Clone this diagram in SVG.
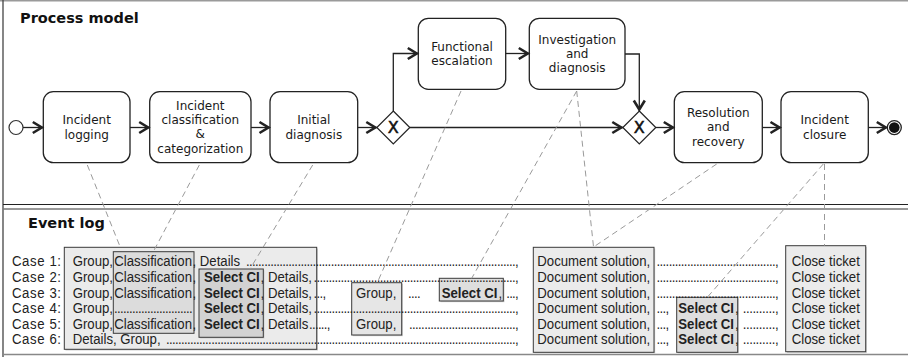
<svg xmlns="http://www.w3.org/2000/svg" width="908" height="357" viewBox="0 0 908 357">
  <style>
    .title { font-family: "DejaVu Sans", Verdana, sans-serif; font-size: 14.5px; font-weight: bold; fill: #111; }
    .task rect { fill: #fff; stroke: #222; stroke-width: 1.3; }
    .task text { font-family: "DejaVu Sans", Verdana, sans-serif; font-size: 12px; fill: #1a1a1a; text-anchor: middle; }
    .gw polygon { fill: #fff; stroke: #222; stroke-width: 1.2; }
    .gw text { font-family: "DejaVu Sans", Verdana, sans-serif; font-size: 16px; fill: #111; stroke: #111; stroke-width: 0.5; text-anchor: middle; }
    .flow { fill: none; stroke: #222; stroke-width: 1.3; }
    .map { fill: none; stroke: #9a9a9a; stroke-width: 1; stroke-dasharray: 6 4; }
    .log { font-family: "Liberation Sans", Arial, sans-serif; font-size: 13.2px; fill: #222; }
    .log .b { font-weight: bold; }
    .log .dots { letter-spacing: -0.7px; }
    .lbox { stroke: #3a3a3a; stroke-width: 1; }
    .shadow { fill: #cfcfcf; }
  </style>
  <defs>
    <marker id="arr" viewBox="0 0 16 14" markerUnits="userSpaceOnUse" markerWidth="16" markerHeight="14" refX="12.5" refY="7" orient="auto" overflow="visible">
      <path d="M2,1.5 L11,7 L2,12.5" fill="none" stroke="#222" stroke-width="2.6"/>
    </marker>
  </defs>

  <!-- frame -->
  <g id="frame">
    <line x1="0" y1="0.75" x2="908" y2="0.75" stroke="#9a9a9a" stroke-width="1.5"/>
    <line x1="3" y1="0" x2="3" y2="357" stroke="#444" stroke-width="1.3"/>
    <line x1="3" y1="204.5" x2="908" y2="204.5" stroke="#222" stroke-width="1.2"/>
    <line x1="3" y1="209" x2="908" y2="209" stroke="#777" stroke-width="1.5"/>
    <line x1="3" y1="354.5" x2="908" y2="354.5" stroke="#888" stroke-width="1.5"/>
  </g>

  <text class="title" x="20" y="23">Process model</text>
  <text class="title" x="28" y="228">Event log</text>

  <!-- process model nodes -->
  <g id="start">
    <circle cx="16" cy="127.5" r="7" fill="#fff" stroke="#333" stroke-width="1.2"/>
  </g>
  <g id="incident-logging" class="task">
    <rect x="43.3" y="91.7" width="86.7" height="71" rx="10"/>
    <text x="86.7" y="124.2">Incident</text>
    <text x="86.7" y="138.5">logging</text>
  </g>
  <g id="incident-classification" class="task">
    <rect x="149.7" y="91.7" width="101.3" height="71" rx="10"/>
    <text x="200.3" y="109.8">Incident</text>
    <text x="200.3" y="124.1">classification</text>
    <text x="200.3" y="138.4">&amp;</text>
    <text x="200.3" y="152.7">categorization</text>
  </g>
  <g id="initial-diagnosis" class="task">
    <rect x="270" y="91.7" width="87.7" height="71" rx="10"/>
    <text x="313.8" y="124.2">Initial</text>
    <text x="313.8" y="138.5">diagnosis</text>
  </g>
  <g id="gateway-split" class="gw">
    <polygon points="393.3,111 409.8,127.5 393.3,144 376.8,127.5"/>
    <text x="393.3" y="133.4">X</text>
  </g>
  <g id="functional-escalation" class="task">
    <rect x="418.3" y="18.3" width="87.4" height="71" rx="10"/>
    <text x="462" y="50.8">Functional</text>
    <text x="462" y="65.1">escalation</text>
  </g>
  <g id="investigation-diagnosis" class="task">
    <rect x="529.3" y="18.3" width="95.7" height="71" rx="10"/>
    <text x="577.2" y="43.6">Investigation</text>
    <text x="577.2" y="57.9">and</text>
    <text x="577.2" y="72.2">diagnosis</text>
  </g>
  <g id="gateway-join" class="gw">
    <polygon points="639.3,111 655.8,127.5 639.3,144 622.8,127.5"/>
    <text x="639.3" y="133.4">X</text>
  </g>
  <g id="resolution-recovery" class="task">
    <rect x="674.3" y="91.7" width="88" height="71" rx="10"/>
    <text x="718.3" y="117">Resolution</text>
    <text x="718.3" y="131.3">and</text>
    <text x="718.3" y="145.6">recovery</text>
  </g>
  <g id="incident-closure" class="task">
    <rect x="781" y="91.7" width="87.3" height="71" rx="10"/>
    <text x="824.7" y="124.2">Incident</text>
    <text x="824.7" y="138.5">closure</text>
  </g>
  <g id="end">
    <circle cx="894.3" cy="127.6" r="7" fill="#fff" stroke="#222" stroke-width="1.3"/>
    <circle cx="894.3" cy="127.6" r="5.3" fill="#111"/>
  </g>

  <!-- sequence flows -->
  <g id="flows">
    <path class="flow" d="M23,127.5 H43.3" marker-end="url(#arr)"/>
    <path class="flow" d="M130,127.5 H149.7" marker-end="url(#arr)"/>
    <path class="flow" d="M251,127.5 H270" marker-end="url(#arr)"/>
    <path class="flow" d="M357.7,127.5 H376.8" marker-end="url(#arr)"/>
    <path class="flow" d="M393.3,111 V53.5 H418.3" marker-end="url(#arr)"/>
    <path class="flow" d="M505.7,53.5 H529.3" marker-end="url(#arr)"/>
    <path class="flow" d="M625,54 H639.3 V111" marker-end="url(#arr)"/>
    <path class="flow" d="M409.8,127.5 H622.8" marker-end="url(#arr)"/>
    <path class="flow" d="M655.8,127.5 H674.3" marker-end="url(#arr)"/>
    <path class="flow" d="M762.3,127.5 H781" marker-end="url(#arr)"/>
    <path class="flow" d="M868.3,127.5 H887.3" marker-end="url(#arr)"/>
  </g>

  <!-- event log boxes -->
  <g id="log-prefix">
    <rect class="shadow" x="65.5" y="248.5" width="252.4" height="102"/>
    <rect class="lbox" x="64.3" y="247.3" width="252.4" height="102" fill="#ebebeb" stroke="#6a6a6a"/>
  </g>
  <g id="log-classification">
    <rect class="lbox" x="113.3" y="251.7" width="80.7" height="81.6" fill="#dcdcdc"/>
  </g>
  <g id="log-select-ci-1">
    <rect class="shadow" x="200.2" y="270.2" width="64.3" height="68.3"/>
    <rect class="lbox" x="199" y="269" width="64.3" height="68.3" fill="#d2d2d2"/>
  </g>
  <g id="log-group">
    <rect class="shadow" x="352.9" y="283.9" width="50" height="52.3"/>
    <rect class="lbox" x="351.7" y="282.7" width="50" height="52.3" fill="#e6e6e6"/>
  </g>
  <g id="log-select-ci-2">
    <rect class="shadow" x="440.5" y="279.5" width="64" height="22.7"/>
    <rect class="lbox" x="439.3" y="278.3" width="64" height="22.7" fill="#dedede"/>
  </g>
  <g id="log-document-solution">
    <rect class="shadow" x="534.5" y="248.5" width="120.7" height="105"/>
    <rect class="lbox" x="533.3" y="247.3" width="120.7" height="105" fill="#ebebeb"/>
  </g>
  <g id="log-select-ci-3">
    <rect class="shadow" x="677.9" y="298.5" width="61" height="55"/>
    <rect class="lbox" x="676.7" y="297.3" width="61" height="55" fill="#dedede"/>
  </g>
  <g id="log-close-ticket">
    <rect class="shadow" x="786.9" y="246.9" width="80" height="106"/>
    <rect class="lbox" x="785.7" y="245.7" width="80" height="106" fill="#ebebeb"/>
  </g>

  <!-- event log traces (glyphs slightly taller than wide, hence the vertical scale) -->
  <g id="traces" class="log" transform="matrix(1 0 0 1.1 0 -26.65)">
    <!-- case 1 -->
    <text x="12" y="266.5" textLength="49" lengthAdjust="spacing">Case 1:</text>
    <text x="72.7" y="266.5">Group,</text>
    <text x="114.3" y="266.5">Classification</text>
    <text x="192.5" y="266.5">, Details</text>
    <text class="dots" x="246" y="266.5" textLength="272" lengthAdjust="spacing">.........................................................................................,</text>
    <text x="537.3" y="266.5">Document solution,</text>
    <text class="dots" x="656.5" y="266.5" textLength="121.5" lengthAdjust="spacing">.......................................,</text>
    <text x="791.7" y="266.5">Close ticket</text>

    <!-- case 2 -->
    <text x="12" y="280.68" textLength="49" lengthAdjust="spacing">Case 2:</text>
    <text x="72.7" y="280.68">Group,</text>
    <text x="114.3" y="280.68">Classification</text>
    <text x="192.5" y="280.68">,</text>
    <text class="b" x="204" y="280.68">Select CI</text>
    <text x="260.6" y="280.68">, Details,</text>
    <text class="dots" x="313.5" y="280.68" textLength="204.5" lengthAdjust="spacing">...................................................................,</text>
    <text x="537.3" y="280.68">Document solution,</text>
    <text class="dots" x="656.5" y="280.68" textLength="121.5" lengthAdjust="spacing">.......................................,</text>
    <text x="791.7" y="280.68">Close ticket</text>

    <!-- case 3 -->
    <text x="12" y="294.86" textLength="49" lengthAdjust="spacing">Case 3:</text>
    <text x="72.7" y="294.86">Group,</text>
    <text x="114.3" y="294.86">Classification</text>
    <text x="192.5" y="294.86">,</text>
    <text class="b" x="204" y="294.86">Select CI</text>
    <text x="260.6" y="294.86">, Details,</text>
    <text class="dots" x="313.5" y="294.86">...,</text>
    <text x="356" y="294.86">Group,</text>
    <text class="dots" x="408" y="294.86">....</text>
    <text class="b" x="441.7" y="294.86">Select CI</text>
    <text x="498.5" y="294.86">,</text>
    <text class="dots" x="506.2" y="294.86">...,</text>
    <text x="537.3" y="294.86">Document solution,</text>
    <text class="dots" x="656.5" y="294.86" textLength="121.5" lengthAdjust="spacing">.......................................,</text>
    <text x="791.7" y="294.86">Close ticket</text>

    <!-- case 4 -->
    <text x="12" y="309.05" textLength="49" lengthAdjust="spacing">Case 4:</text>
    <text x="72.7" y="309.05">Group,</text>
    <text class="dots" x="114" y="309.05" textLength="78" lengthAdjust="spacing">..........................</text>
    <text class="b" x="204" y="309.05">Select CI</text>
    <text x="260.6" y="309.05">, Details,</text>
    <text class="dots" x="313.5" y="309.05" textLength="204.5" lengthAdjust="spacing">...................................................................,</text>
    <text x="537.3" y="309.05">Document solution,</text>
    <text class="dots" x="656.5" y="309.05">...,</text>
    <text class="b" x="678.3" y="309.05">Select CI</text>
    <text x="734.9" y="309.05">,</text>
    <text class="dots" x="742.7" y="309.05" textLength="35.3" lengthAdjust="spacing">..........,</text>
    <text x="791.7" y="309.05">Close ticket</text>

    <!-- case 5 -->
    <text x="12" y="323.23" textLength="49" lengthAdjust="spacing">Case 5:</text>
    <text x="72.7" y="323.23">Group,</text>
    <text x="114.3" y="323.23">Classification</text>
    <text x="192.5" y="323.23">,</text>
    <text class="b" x="204" y="323.23">Select CI</text>
    <text x="260.6" y="323.23">, Details</text>
    <text class="dots" x="309" y="323.23">......,</text>
    <text x="356" y="323.23">Group,</text>
    <text class="dots" x="409" y="323.23" textLength="109" lengthAdjust="spacing">...................................,</text>
    <text x="537.3" y="323.23">Document solution,</text>
    <text class="dots" x="656.5" y="323.23">...,</text>
    <text class="b" x="678.3" y="323.23">Select CI</text>
    <text x="734.9" y="323.23">,</text>
    <text class="dots" x="742.7" y="323.23" textLength="35.3" lengthAdjust="spacing">..........,</text>
    <text x="791.7" y="323.23">Close ticket</text>

    <!-- case 6 -->
    <text x="12" y="337.41" textLength="49" lengthAdjust="spacing">Case 6:</text>
    <text x="72.7" y="337.41">Details, Group,</text>
    <text class="dots" x="166" y="337.41" textLength="352" lengthAdjust="spacing">....................................................................................................................,</text>
    <text x="537.3" y="337.41">Document solution,</text>
    <text class="dots" x="656.5" y="337.41">...,</text>
    <text class="b" x="678.3" y="337.41">Select CI</text>
    <text x="734.9" y="337.41">,</text>
    <text class="dots" x="742.7" y="337.41" textLength="35.3" lengthAdjust="spacing">..........,</text>
    <text x="791.7" y="337.41">Close ticket</text>
  </g>

  <!-- mapping between activities and log events -->
  <g id="mappings">
    <line class="map" x1="87.3" y1="165" x2="120" y2="246.5"/>
    <line class="map" x1="199.3" y1="165" x2="153.3" y2="251.7"/>
    <line class="map" x1="312.7" y1="165" x2="250" y2="269"/>
    <line class="map" x1="461" y1="91" x2="377.3" y2="282.7"/>
    <line class="map" x1="576.7" y1="91" x2="471.7" y2="278.3"/>
    <line class="map" x1="576.7" y1="91" x2="593.5" y2="246.7"/>
    <line class="map" x1="716.7" y1="164" x2="594" y2="246.7"/>
    <line class="map" x1="823.3" y1="164" x2="707.3" y2="297.3"/>
    <line class="map" x1="824.5" y1="164" x2="824.5" y2="245.7"/>
  </g>
</svg>
